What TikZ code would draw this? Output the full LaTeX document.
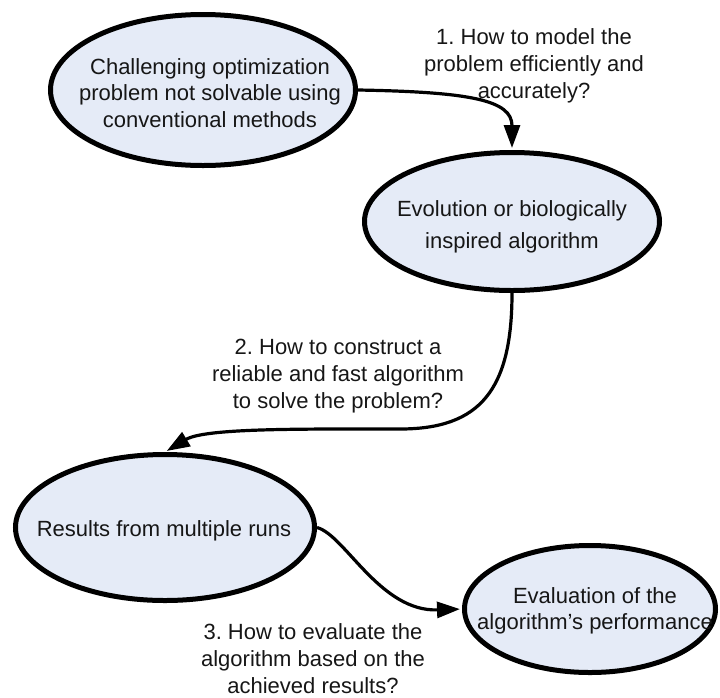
\documentclass[tikz,border=0pt]{standalone}
\usepackage{fontspec}
\setmainfont{Liberation Sans}
\usetikzlibrary{shapes.geometric,arrows.meta}
\definecolor{ellfill}{RGB}{229,235,247}
\definecolor{txt}{RGB}{22,22,22}
\frenchspacing
\tikzset{
  ell/.style={ellipse, draw=black, line width=5pt, fill=ellfill, inner sep=0pt},
  etext/.style={align=center, text=txt, font=\fontsize{22}{26.5}\selectfont, inner sep=0pt},
  lbl/.style={align=center, text=txt, font=\fontsize{22}{27}\selectfont\frenchspacing, inner sep=0pt},
  conn/.style={line width=3.2pt, draw=black, -{Triangle[length=23pt,width=16pt]}, shorten >=2pt},
}
\begin{document}
\begin{tikzpicture}[x=1pt,y=-1pt]
\useasboundingbox (0,0) rectangle (720,697);
% ellipses
\node[ell, minimum width=305pt, minimum height=151pt] (e1) at (203,90) {};
\node[ell, minimum width=295pt, minimum height=138pt] (e2) at (512,221.5) {};
\node[ell, minimum width=299pt, minimum height=146pt] (e3) at (165,527.5) {};
\node[ell, minimum width=251pt, minimum height=127pt] (e4) at (590,609) {};
% texts
\node[etext] (t1) at (210,93) {Challenging optimization\\problem not solvable using\\conventional methods};
\node[etext, font=\fontsize{22}{32}\selectfont] (t2) at (512,227) {Evolution or biologically\\inspired algorithm};
\node[etext] (t3) at (164,531) {Results from multiple runs};
\node[etext] (t4) at (595,611) {Evaluation of the\\algorithm’s performance};
% labels
\node[lbl] (l1) at (534,66) {1. How to model the\\problem efficiently and\\accurately?};
\node[lbl] (l2) at (338,376) {2. How to construct a\\reliable and fast algorithm\\to solve the problem?};
\node[lbl] (l3) at (313,659) {3. How to evaluate the\\algorithm based on the\\achieved results?};
% connectors
\draw[conn] (e1.east) .. controls (470,92) and (512,100) .. (e2.north);
\draw[conn] (e2.south) .. controls (512,390) and (480,429) .. (400,429)
  .. controls (300,429) and (205,428) .. (e3.north);
\draw[conn] (e3.east) .. controls (345,535) and (380,612) .. (e4.west);
\end{tikzpicture}
\end{document}
